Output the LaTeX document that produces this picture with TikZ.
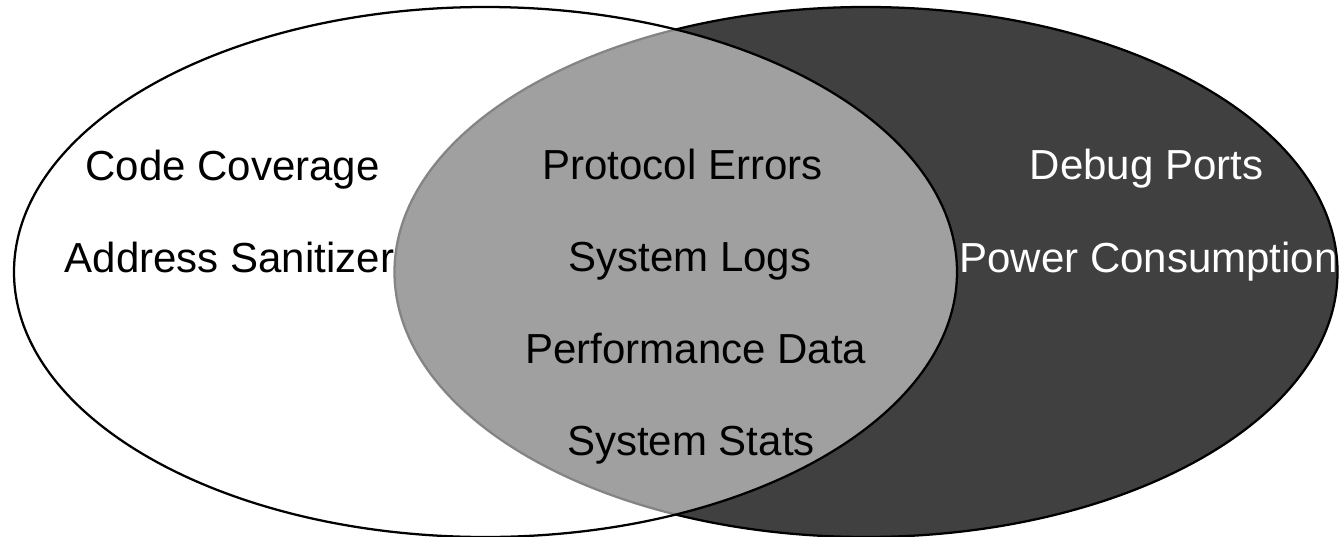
\documentclass[tikz,border=0pt]{standalone}
\usepackage{fontspec}
\setmainfont{Liberation Sans}
\definecolor{darkset}{HTML}{404040}
\definecolor{lensfill}{HTML}{A0A0A0}
\definecolor{lensedge}{HTML}{848484}
\tikzset{
  lbl/.style={inner sep=0pt, anchor=base, font=\fontsize{31.5}{37}\selectfont},
  outline/.style={line width=1.7pt}
}
\begin{document}
\begin{tikzpicture}[x=0.75pt,y=-0.75pt]
\useasboundingbox (0,0) rectangle (1344,536);
\coordinate (lc) at (485.5,272);
\coordinate (rc) at (866,272);
% right set
\fill[darkset] (rc) ellipse [x radius=471.5, y radius=265];
\draw[outline] (rc) ellipse [x radius=471.5, y radius=265];
% left set
\fill[white] (lc) ellipse [x radius=471.5, y radius=265];
% left-only labels (drawn beneath the intersection)
\node[lbl] (cc) at (232.5,180) {Code Coverage};
\node[lbl] (as) at (229.5,272) {Address Sanitizer};
% intersection
\begin{scope}
  \clip (lc) ellipse [x radius=471.5, y radius=265];
  \fill[lensfill] (rc) ellipse [x radius=471.5, y radius=265];
  \draw[outline, lensedge] (rc) ellipse [x radius=471.5, y radius=265];
\end{scope}
\draw[outline] (lc) ellipse [x radius=471.5, y radius=265];
% other labels
\node[lbl] (pe) at (682.5,179) {Protocol Errors};
\node[lbl] (sl) at (690,271) {System Logs};
\node[lbl] (pd) at (696,363) {Performance Data};
\node[lbl] (ss) at (691,455) {System Stats};
\node[lbl, white] (dp) at (1146.5,179) {Debug Ports};
\node[lbl, white] (pc) at (1148.5,272) {Power Consumption};
\end{tikzpicture}
\end{document}
